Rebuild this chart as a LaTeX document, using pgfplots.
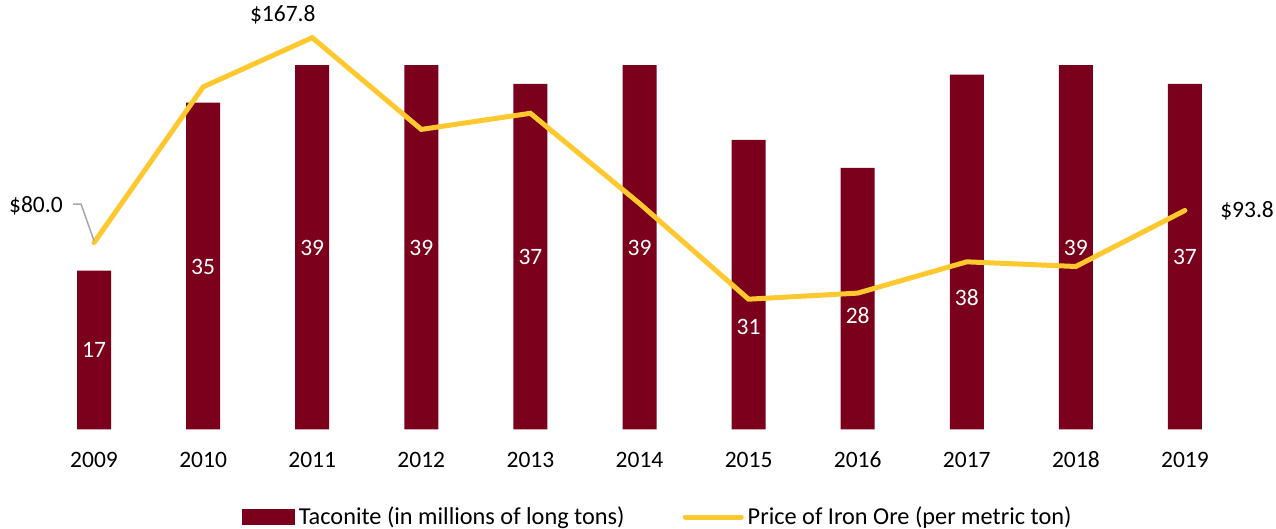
\documentclass[border=0pt]{standalone}
\usepackage{pgfplots}
\pgfplotsset{compat=1.18}
\usepackage{pgfplotstable}
\usepackage{fontspec}
\setmainfont{Carlito}
\definecolor{barred}{RGB}{122,0,28}
\definecolor{oreyellow}{RGB}{255,200,46}
\definecolor{leadergray}{RGB}{166,166,166}

\pgfplotstableread{
x v ly
0 17 8.5
1 35 17.4
2 39 19.4
3 39 19.4
4 37 18.5
5 39 19.4
6 31 11.0
7 28 12.2
8 38 14.1
9 39 19.4
10 37 18.5
}\taconite

\pgfplotstableread{
x p
0 80.0
1 146.7
2 167.8
3 128.5
4 135.4
5 96.8
6 55.8
7 58.4
8 71.8
9 69.8
10 93.8
}\price

\begin{document}
\begin{tikzpicture}[font=\fontsize{11.75pt}{14pt}\selectfont]
\begin{axis}[
  scale only axis, width=600pt, height=205.5pt,
  xmin=-0.5, xmax=10.5, ymin=0, ymax=44,
  axis line style={draw=none},
  ytick=\empty,
  xtick={0,...,10},
  xticklabels={2009,2010,2011,2012,2013,2014,2015,2016,2017,2018,2019},
  major tick length=0pt,
  xticklabel style={anchor=center, yshift=-15.25pt},
  clip=false,
]
\addplot[ybar, bar width=17pt, fill=barred, draw=none] table[x=x,y=v]{\taconite};
\addplot[draw=none, mark=none, nodes near coords, point meta=explicit symbolic,
  nodes near coords style={anchor=center, text=white}] table[x=x,y=ly,meta=v]{\taconite};
\end{axis}
\begin{axis}[
  scale only axis, width=600pt, height=205.5pt,
  xmin=-0.5, xmax=10.5, ymin=0, ymax=176,
  hide axis, clip=false,
  legend columns=2,
  legend style={at={(0.516,-0.213)}, anchor=center, draw=none, fill=none,
    font=\fontsize{12.15pt}{14pt}\selectfont,
    /tikz/every even column/.append style={column sep=27pt}},
  legend cell align=left,
]
\addlegendimage{legend image code/.code={\fill[barred] (0pt,-3.75pt) rectangle (26pt,3.75pt);}}
\addlegendentry{Taconite (in millions of long tons)}
\addplot[oreyellow, line width=2.5pt, line cap=round, mark=none,
  legend image code/.code={\draw[oreyellow, line width=2.5pt, line cap=round] (0pt,0pt) -- (28pt,0pt);}]
  table[x=x,y=p]{\price};
\addlegendentry{Price of Iron Ore (per metric ton)}
\draw[leadergray, line width=0.75pt] (axis cs:-0.192,96.5) -- (axis cs:-0.119,96.5) -- (axis cs:0.0,80.8);
\node[anchor=east, inner sep=0pt] at (axis cs:-0.284,95.6) {\$80.0};
\node[inner sep=0pt] at (axis cs:1.73,177.8) {\$167.8};
\node[anchor=west, inner sep=0pt] at (axis cs:10.32,93.5) {\$93.8};
\end{axis}
\pgfresetboundingbox
\path (-19.75pt,-49.75pt) rectangle (618.25pt,214.75pt);
\end{tikzpicture}
\end{document}
